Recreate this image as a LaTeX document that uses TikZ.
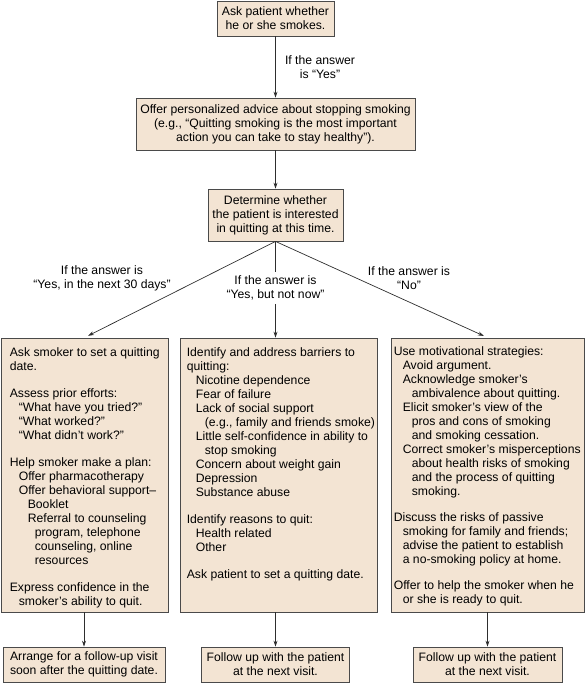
\documentclass[tikz,border=0pt]{standalone}
\usepackage{fontspec}
\setmainfont{Liberation Sans}
\usetikzlibrary{arrows.meta,positioning}
\definecolor{boxfill}{HTML}{F3E4D3}
\definecolor{frameline}{HTML}{4A4A4A}
\definecolor{linegray}{HTML}{2E2E2E}
\newcommand{\indA}{\hspace*{9pt}}
\newcommand{\indB}{\hspace*{18pt}}
\newcommand{\indC}{\hspace*{25pt}}
\begin{document}
\begin{tikzpicture}[x=1pt,y=-1pt,font=\fontsize{12.2}{14}\selectfont,
box/.style={draw=frameline,fill=boxfill,line width=.8pt,align=center,inner sep=2pt},
col/.style={draw=frameline,fill=boxfill,line width=.8pt,inner sep=0pt,minimum height=274pt},
coltext/.style={align=left,inner sep=0pt,anchor=north west},
lbl/.style={align=center,inner sep=2pt},
arrow/.style={-{Stealth[length=6pt,width=4pt]},line width=.7pt,draw=linegray}]
\useasboundingbox (0,0) rectangle (585,684);
% top of the chart
\node[box,minimum width=117pt,minimum height=35pt] (ask) at (275.5,18.5) {Ask patient whether\\he or she smokes.};
\node[box,minimum width=279pt,minimum height=52pt] (advice) at (275.5,124) {Offer personalized advice about stopping smoking\\(e.g., “Quitting smoking is the most important\\action you can take to stay healthy”).};
\node[box,minimum width=135pt,minimum height=52pt] (interest) at (275.5,215) {Determine whether\\the patient is interested\\in quitting at this time.};
\node[lbl] (yeslbl) at (320,67) {If the answer\\is “Yes”};
\draw[arrow] (ask) -- (advice);
\draw[arrow] (advice) -- (interest);
% three branches
\node[col,minimum width=167pt] (leftcol) at (84.5,475) {};
\node[col,minimum width=197pt] (midcol) at (278.5,475) {};
\node[col,minimum width=193pt] (rightcol) at (487.5,475) {};
\node[lbl] (lbl30) at (102,278.5) {If the answer is\\“Yes, in the next 30 days”};
\node[lbl,inner sep=3.5pt] (lblnotnow) at (275.5,288) {If the answer is\\“Yes, but not now”};
\node[lbl] (lblno) at (409,278.5) {If the answer is\\“No”};
\draw[arrow,shorten >=4pt] (interest.south) -- (leftcol.north);
\draw[arrow,shorten >=4pt] (interest.south) -- (rightcol.north);
\draw[draw=linegray,line width=.7pt] (interest.south) -- (lblnotnow);
\draw[arrow] (lblnotnow) -- (lblnotnow |- midcol.north);
\node[coltext,below right=10pt and 9pt of leftcol.north west] (lefttext) {Ask smoker to set a quitting\\
date.\\[13pt]
Assess prior efforts:\\
\indA “What have you tried?”\\
\indA “What worked?”\\
\indA “What didn’t work?”\\[13pt]
Help smoker make a plan:\\
\indA Offer pharmacotherapy\\
\indA Offer behavioral support–\\
\indB Booklet\\
\indB Referral to counseling\\
\indC program, telephone\\
\indC counseling, online\\
\indC resources\\[13pt]
Express confidence in the\\
\indA smoker’s ability to quit.};
\node[coltext,below right=10pt and 7pt of midcol.north west] (midtext) {Identify and address barriers to\\
quitting:\\
\indA Nicotine dependence\\
\indA Fear of failure\\
\indA Lack of social support\\
\indB (e.g., family and friends smoke)\\
\indA Little self-confidence in ability to\\
\indB stop smoking\\
\indA Concern about weight gain\\
\indA Depression\\
\indA Substance abuse\\[13pt]
Identify reasons to quit:\\
\indA Health related\\
\indA Other\\[13pt]
Ask patient to set a quitting date.};
\node[coltext,below right=9pt and 3pt of rightcol.north west] (righttext) {Use motivational strategies:\\
\indA Avoid argument.\\
\indA Acknowledge smoker’s\\
\indB ambivalence about quitting.\\
\indA Elicit smoker’s view of the\\
\indB pros and cons of smoking\\
\indB and smoking cessation.\\
\indA Correct smoker’s misperceptions\\
\indB about health risks of smoking\\
\indB and the process of quitting\\
\indB smoking.\\[12pt]
Discuss the risks of passive\\
\indA smoking for family and friends;\\
\indA advise the patient to establish\\
\indA a no-smoking policy at home.\\[12pt]
Offer to help the smoker when he\\
\indA or she is ready to quit.};
% follow-up boxes
\node[box,minimum width=162pt,minimum height=35pt] (leftend) at (84,664.5) {Arrange for a follow-up visit\\soon after the quitting date.};
\node[box,minimum width=148pt,minimum height=35pt] (midend) at (275.5,664.5) {Follow up with the patient\\at the next visit.};
\node[box,minimum width=149pt,minimum height=35pt] (rightend) at (487.5,664.5) {Follow up with the patient\\at the next visit.};
\draw[arrow] (leftcol.south -| leftend.north) -- (leftend.north);
\draw[arrow] (midcol.south -| midend.north) -- (midend.north);
\draw[arrow] (rightcol.south -| rightend.north) -- (rightend.north);
\end{tikzpicture}
\end{document}
